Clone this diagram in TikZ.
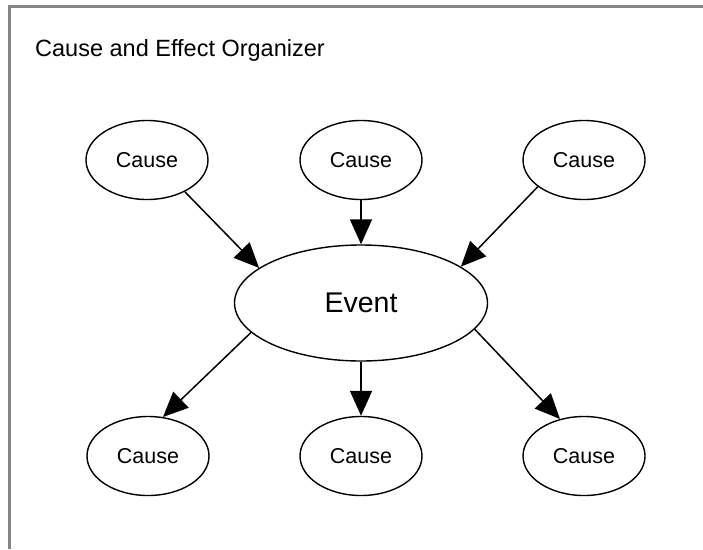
\documentclass[tikz,border=0pt]{standalone}
\usepackage{fontspec}
\setmainfont{Liberation Sans}
\usepackage{tikz}
\usetikzlibrary{arrows.meta,shapes.geometric}
\definecolor{framegray}{HTML}{858585}

\begin{document}
\begin{tikzpicture}[x=1pt, y=-1pt,
  cause/.style={draw, ellipse, line width=1.4pt, minimum width=122pt, minimum height=79pt, inner sep=0pt, font=\fontsize{21.5}{24}\selectfont},
  event/.style={draw, ellipse, line width=1.4pt, minimum width=253pt, minimum height=116pt, inner sep=0pt, font=\fontsize{28.5}{32}\selectfont},
  link/.style={line width=1.5pt, -{Triangle[length=25pt, width=22pt]}}]
\useasboundingbox (0,0) rectangle (703,549);
% Draw the frame of the sheet
\draw[framegray, line width=3pt] (9,549) -- (9,6) -- (703,6);
% Title
\node[anchor=base west, inner sep=0pt, font=\fontsize{23.5}{26}\selectfont] (title) at (35,56) {Cause and Effect Organizer};
% The event in the middle
\node[event] (ev) at (361,303) {Event};
% Causes above and below
\node[cause] (c1) at (147,160) {Cause};
\node[cause] (c2) at (361,160) {Cause};
\node[cause] (c3) at (584,160) {Cause};
\node[cause] (c4) at (148,456) {Cause};
\node[cause] (c5) at (361,456) {Cause};
\node[cause] (c6) at (584,456) {Cause};
% Arrows
\draw[link] (c1.-40) -- (ev.161);
\draw[link] (c2.south) -- (ev.north);
\draw[link] (c3.210) -- (ev.20);
\draw[link] (ev.195) -- (c4.69);
\draw[link] (ev.south) -- (c5.north);
\draw[link] (ev.-13) -- (c6.123);
\end{tikzpicture}
\end{document}
